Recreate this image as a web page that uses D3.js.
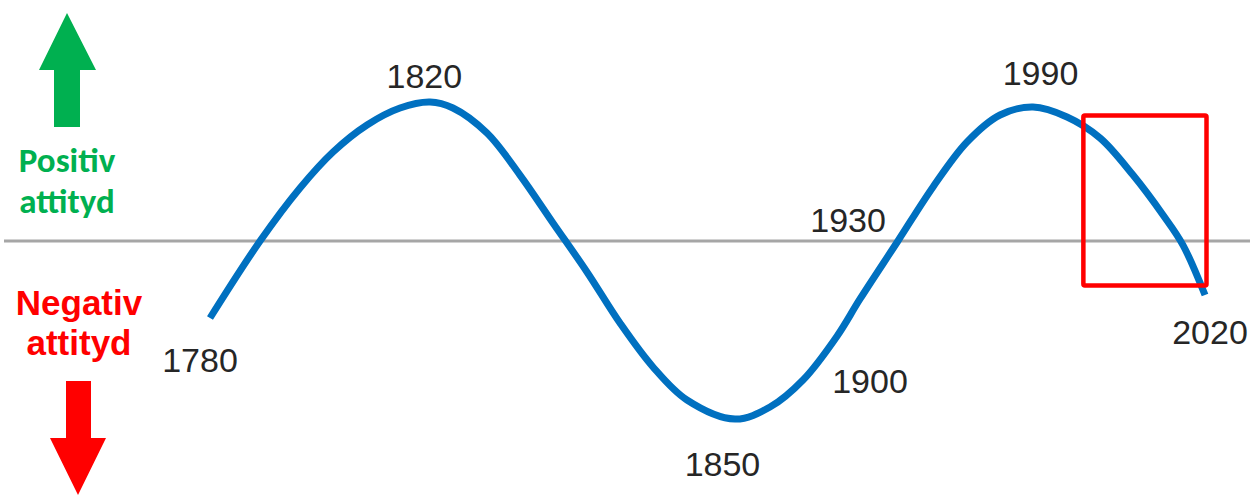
<!DOCTYPE html>
<html>
<head>
<meta charset="utf-8">
<script src="https://cdn.jsdelivr.net/npm/d3@7"></script>
<style>
  html, body { margin: 0; padding: 0; background: #ffffff; }
  svg { display: block; }
</style>
</head>
<body>
<svg id="chart" width="1254" height="496"></svg>
<script>
// ---- data (abstract time position 0..100, attitude -1..1) ----
const curveX = [0, 5.02, 9.03, 12.34, 15.75, 19.06, 22.07, 24.37, 27.78, 31.09, 34.40, 37.81, 41.12, 44.43, 47.84, 52.66, 56.17, 59.48, 62.89, 65.20, 69.00, 72.52, 75.93, 79.24, 82.55, 85.96, 89.27, 92.58, 95.59, 97.59, 99.8];
const curveY = [-0.55, 0, 0.379, 0.636, 0.829, 0.95, 0.993, 0.95, 0.771, 0.471, 0.129, -0.221, -0.586, -0.9, -1.136, -1.272, -1.186, -0.993, -0.68, -0.414, 0, 0.386, 0.707, 0.9, 0.957, 0.886, 0.736, 0.471, 0.186, -0.029, -0.386];

const yearLabels = ["1780", "1820", "1850", "1900", "1930", "1990", "2020"];
const yearLabelX = [-1.0, 21.5, 51.4, 66.2, 64.0, 83.3, 100.3];
const yearLabelY = [-0.933, 1.093, -1.679, -1.086, 0.064, 1.114, -0.736];

const highlightX = [87.6, 99.95];
const highlightY = [-0.318, 0.896];

const positiveLabel = ["Positiv", "attityd"];
const negativeLabel = ["Negativ", "attityd"];

// ---- scales ----
const svg = d3.select("#chart");
const x = d3.scaleLinear().domain([0, 100]).range([210, 1207]);
const y = d3.scaleLinear().domain([-1, 1]).range([381, 101]);

// baseline (zero attitude)
svg.append("line")
  .attr("x1", 4).attr("x2", 1250)
  .attr("y1", y(0)).attr("y2", y(0))
  .attr("stroke", "#A6A6A6").attr("stroke-width", 3);

// curve
const pts = curveX.map((d, i) => [d, curveY[i]]);
const line = d3.line().x(d => x(d[0])).y(d => y(d[1])).curve(d3.curveCatmullRom.alpha(0.5));
svg.append("path")
  .attr("d", line(pts))
  .attr("fill", "none")
  .attr("stroke", "#0070C0")
  .attr("stroke-width", 7);

// highlight box
svg.append("rect")
  .attr("x", x(highlightX[0]))
  .attr("y", y(highlightY[1]))
  .attr("width", x(highlightX[1]) - x(highlightX[0]))
  .attr("height", y(highlightY[0]) - y(highlightY[1]))
  .attr("rx", 1.5)
  .attr("fill", "none")
  .attr("stroke", "#FF0000")
  .attr("stroke-width", 4.5);

// year labels
svg.selectAll("text.year")
  .data(yearLabels)
  .join("text")
  .attr("class", "year")
  .attr("x", (d, i) => x(yearLabelX[i]))
  .attr("y", (d, i) => y(yearLabelY[i]))
  .attr("text-anchor", "middle")
  .attr("font-family", "Liberation Sans, Arial, sans-serif")
  .attr("font-size", 34)
  .attr("fill", "#262626")
  .text(d => d);

// green up arrow
svg.append("path")
  .attr("d", "M67,13 L96,70 L80,70 L80,127 L54,127 L54,70 L39,70 Z")
  .attr("fill", "#00B050");

// red down arrow
svg.append("path")
  .attr("d", "M66,381 L91,381 L91,438 L106,438 L78,495 L50,438 L66,438 Z")
  .attr("fill", "#FF0000");

// positive text
svg.selectAll("text.pos")
  .data(positiveLabel)
  .join("text")
  .attr("class", "pos")
  .attr("x", 67)
  .attr("y", (d, i) => 172 + i * 41)
  .attr("text-anchor", "middle")
  .attr("font-family", "Carlito, Lato, sans-serif")
  .attr("font-weight", "bold")
  .attr("font-size", 35)
  .attr("fill", "#00B050")
  .text(d => d);

// negative text
svg.selectAll("text.neg")
  .data(negativeLabel)
  .join("text")
  .attr("class", "neg")
  .attr("x", 79)
  .attr("y", (d, i) => 315 + i * 40)
  .attr("text-anchor", "middle")
  .attr("font-family", "Liberation Sans, Arial, sans-serif")
  .attr("font-weight", "bold")
  .attr("font-size", 35)
  .attr("fill", "#FF0000")
  .text(d => d);
</script>
</body>
</html>
